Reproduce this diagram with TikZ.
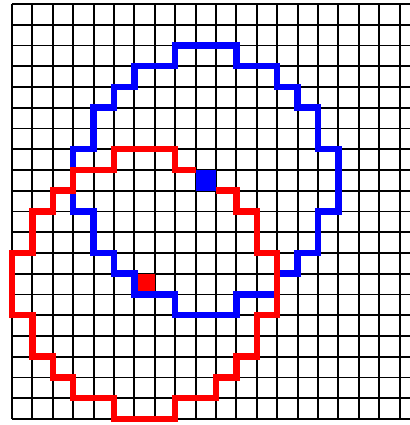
\documentclass[tikz,border=0pt]{standalone}
\usepackage{tikz}
\begin{document}
\begin{tikzpicture}[
  x=20.4pt, y=-20.75pt,
  gridline/.style={black, line width=1.9pt},
  bluepath/.style={draw=blue, line width=6.5pt, line join=miter},
  redpath/.style={draw=red, line width=6.5pt, line join=miter},
]
\useasboundingbox (-0.588,-0.193) rectangle (19.51,20.29);

% Grid
\begin{scope}
  \clip (-0.588,-0.193) rectangle (19.51,20.29);
  \foreach \c in {0,...,19} \draw[gridline] (\c,0) -- (\c,20);
  \foreach \r in {0,...,20} \draw[gridline] (0,\r) -- (19.8,\r);
\end{scope}

% Red cell
\fill[red] (6,13) rectangle (7,14);

% Blue boundary
\draw[bluepath] (8,2) -- (11,2) -- (11,3) -- (13,3) -- (13,4) -- (14,4) -- (14,5)
  -- (15,5) -- (15,7) -- (16,7) -- (16,10) -- (15,10) -- (15,12) -- (14,12)
  -- (14,13) -- (13,13) -- (13,14) -- (11,14) -- (11,15) -- (8,15) -- (8,14)
  -- (6,14) -- (6,13) -- (5,13) -- (5,12) -- (4,12) -- (4,10) -- (3,10)
  -- (3,7) -- (4,7) -- (4,5) -- (5,5) -- (5,4) -- (6,4) -- (6,3) -- (8,3) -- cycle;

% Red boundary
\draw[redpath] (10,9) -- (11,9) -- (11,10) -- (12,10) -- (12,12) -- (13,12)
  -- (13,15) -- (12,15) -- (12,17) -- (11,17) -- (11,18) -- (10,18) -- (10,19)
  -- (8,19) -- (8,20) -- (5,20) -- (5,19) -- (3,19) -- (3,18) -- (2,18)
  -- (2,17) -- (1,17) -- (1,15) -- (0,15) -- (0,12) -- (1,12) -- (1,10)
  -- (2,10) -- (2,9) -- (3,9) -- (3,8) -- (5,8) -- (5,7) -- (8,7) -- (8,8) -- (9,8);

% Blue cell
\fill[blue] (9,8) rectangle (10,9);
\end{tikzpicture}
\end{document}
